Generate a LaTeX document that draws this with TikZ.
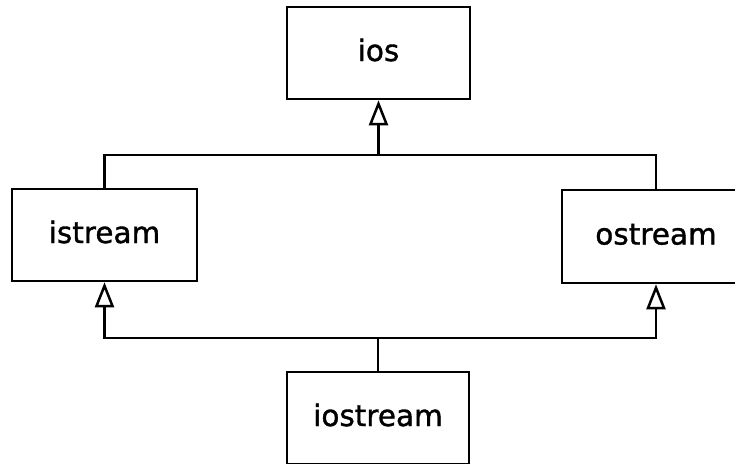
\documentclass[tikz,border=0pt]{standalone}
\usepackage{fontspec}
\setmainfont{DejaVu Sans}[FakeBold=1.2]
\usetikzlibrary{arrows.meta}
\begin{document}
\begin{tikzpicture}[x=1pt,y=-1pt,
  cls/.style={draw, line width=2.6pt, fill=white, inner sep=0pt,
    font=\fontsize{29.5}{33}\selectfont, text height=16pt, text depth=0pt},
  link/.style={line width=2.5pt},
  inh/.style={link, -{Triangle[open, length=25pt, width=19pt, line width=2.5pt]}}]
\useasboundingbox[fill=white] (0,0) rectangle (735,463);
\node[cls, minimum width=183pt, minimum height=92pt] (ios) at (378.5,53) {ios};
\node[cls, minimum width=185pt, minimum height=92pt] (istream) at (104.5,235) {istream};
\node[cls, minimum width=188pt, minimum height=93pt] (ostream) at (656,236.5) {ostream};
\node[cls, minimum width=182pt, minimum height=92pt] (iostream) at (378,418) {iostream};
\coordinate (topbar) at (0,155);
\coordinate (botbar) at (0,338);
\draw[link] (istream.north) |- (ostream.north |- topbar) -- (ostream.north);
\draw[inh] (ios.south |- topbar) -- (ios.south);
\draw[link] (iostream.north) -- (iostream.north |- botbar);
\draw[inh] (iostream.north |- botbar) -| (istream.south);
\draw[inh] (iostream.north |- botbar) -| (ostream.south);
\end{tikzpicture}
\end{document}
